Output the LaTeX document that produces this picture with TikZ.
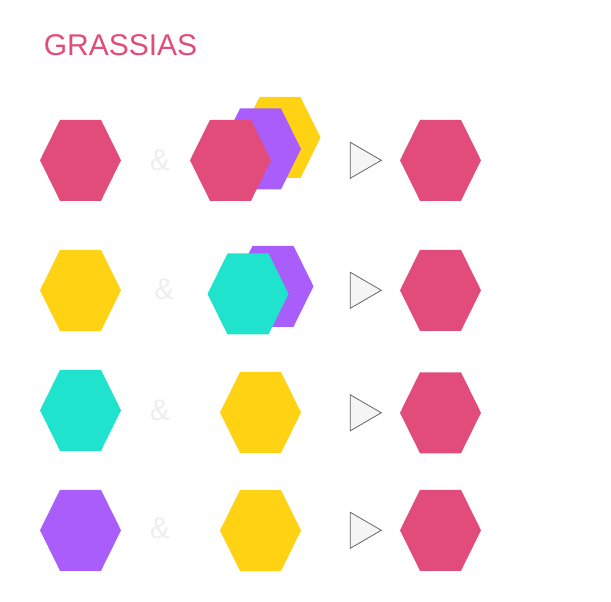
\documentclass[tikz,border=0pt]{standalone}
\usepackage{fontspec}
\setmainfont{Liberation Sans}
\usetikzlibrary{arrows.meta}

\definecolor{hexpink}{HTML}{E24C7A}
\definecolor{hexyellow}{HTML}{FFD213}
\definecolor{hexpurple}{HTML}{A95EFB}
\definecolor{hexcyan}{HTML}{20E3CE}
\definecolor{ampgray}{HTML}{EEEEEE}

\tikzset{
  hexa/.pic={\fill (-40.5,0) -- (-20.5,40.5) -- (20.5,40.5) -- (40.5,0)
    -- (20.5,-40.5) -- (-20.5,-40.5) -- cycle;},
  amp/.style={text=ampgray,font=\fontsize{22.5}{24}\selectfont},
  playtri/.pic={\filldraw[fill=black!4,draw=black!60,line width=0.6pt]
    (-15.5,-18) -- (15.5,0) -- (-15.5,18) -- cycle;}
}

\begin{document}
\begin{tikzpicture}[x=0.75pt,y=-0.75pt]
  \useasboundingbox (0,0) rectangle (611,602);
  \node[anchor=west,text=hexpink,font=\fontsize{22.5}{24}\selectfont,inner sep=0pt] (title) at (43.5,45.5){GRASSIAS};

  % row 1
  \pic[hexpink] (a1) at (80.5,160.3){hexa};
  \node[amp] (and1) at (160,160){\&};
  \pic[hexyellow] (b1c) at (280,137.5){hexa};
  \pic[hexpurple] (b1b) at (260.5,149){hexa};
  \pic[hexpink] (b1a) at (230.5,160.3){hexa};
  \pic (t1) at (365.8,160.3){playtri};
  \pic[hexpink] (c1) at (440.5,160.3){hexa};

  % row 2
  \pic[hexyellow] (a2) at (80.5,290.3){hexa};
  \node[amp] (and2) at (164.5,289){\&};
  \pic[hexpurple] (b2b) at (273,286.3){hexa};
  \pic[hexcyan] (b2a) at (248,294){hexa};
  \pic (t2) at (365.8,290.3){playtri};
  \pic[hexpink] (c2) at (440.5,290.3){hexa};

  % row 3
  \pic[hexcyan] (a3) at (80.5,410.3){hexa};
  \node[amp] (and3) at (160,410.5){\&};
  \pic[hexyellow] (b3) at (260.5,412.5){hexa};
  \pic (t3) at (365.8,412.8){playtri};
  \pic[hexpink] (c3) at (440.5,412.8){hexa};

  % row 4
  \pic[hexpurple] (a4) at (80.5,530.3){hexa};
  \node[amp] (and4) at (160,528){\&};
  \pic[hexyellow] (b4) at (260.5,530.5){hexa};
  \pic (t4) at (365.8,530.3){playtri};
  \pic[hexpink] (c4) at (440.5,530.3){hexa};
\end{tikzpicture}
\end{document}
